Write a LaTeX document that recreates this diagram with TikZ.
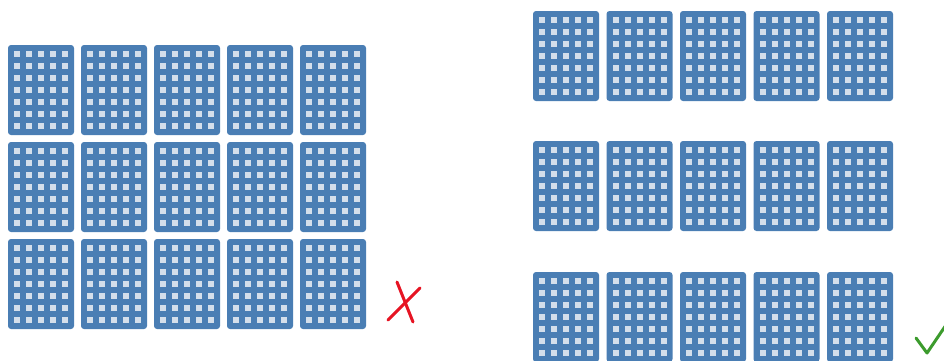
\documentclass[tikz,border=0pt]{standalone}
\usepackage{tikz}
\definecolor{panelblue}{RGB}{74,126,180}
\definecolor{cellgray}{RGB}{212,223,235}
\definecolor{wrongred}{RGB}{230,20,35}
\definecolor{rightgreen}{RGB}{60,155,45}

\begin{document}
\begin{tikzpicture}[x=1pt, y=-1pt]
    \tikzset{solarpanel/.pic={
               \fill[panelblue, rounded corners=3pt] (0,0) rectangle (66,90);
               \foreach \i in {0,...,4}
                 \foreach \j in {0,...,6}
                   \fill[cellgray] (6+12*\i,6+12*\j) rectangle ++(6,6);
             },
             mark stroke/.style={line width=3pt, line cap=round}}
    \useasboundingbox (0,0) rectangle (944,360);
    % tightly packed field
    \foreach \c in {0,...,4}
      \foreach \r/\y in {0/45, 1/142, 2/239}
        \pic at ({8+73*\c},\y) {solarpanel};
    % spaced rows
    \foreach \c in {0,...,4}
      \foreach \r/\y in {0/11, 1/141, 2/272}
        \pic at ({533+73.5*\c},\y) {solarpanel};
    \draw[mark stroke, wrongred] (397,282) -- (413,322);
    \draw[mark stroke, wrongred] (420,288) -- (388,320);
    \draw[mark stroke, rightgreen, line join=round] (916,338) -- (927,353) -- (946,325);
\end{tikzpicture}
\end{document}
